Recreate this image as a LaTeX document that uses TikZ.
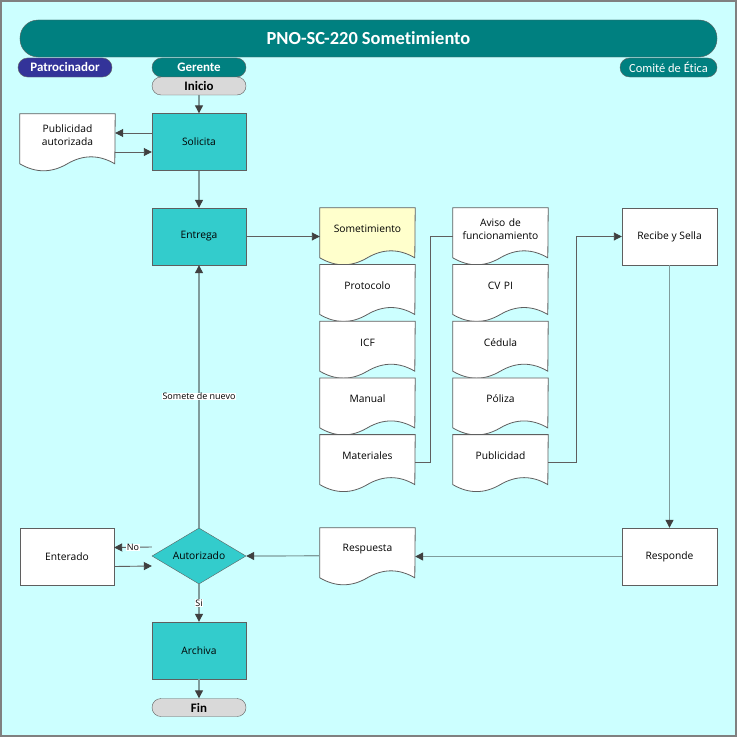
\documentclass[tikz,border=0pt]{standalone}
\usepackage{fontspec}
\setmainfont{Open Sans}
\newfontfamily\headfont[Ligatures=NoCommon]{Carlito}
\usetikzlibrary{positioning,calc,shapes.geometric,arrows.meta}
\definecolor{bgcyan}{HTML}{CCFFFF}
\definecolor{laneteal}{HTML}{008080}
\definecolor{laneblue}{HTML}{333399}
\definecolor{procturq}{HTML}{33CCCC}
\definecolor{docyellow}{HTML}{FFFFCC}
\definecolor{termgray}{HTML}{D9D9D9}
\definecolor{edgegray}{HTML}{5F5F5F}
\definecolor{flowgray}{HTML}{7F9C9C}
\definecolor{tipgray}{HTML}{404040}
\pgfdeclarelayer{background}
\pgfdeclarelayer{docs}
\pgfsetlayers{background,docs,main}

\begin{document}
\begin{tikzpicture}[x=1bp,y=-1bp,
    every node/.style={font=\fontsize{10.3}{13.5}\selectfont},
    lane/.style={rounded corners=9.5bp,draw=edgegray,fill=laneteal,text=white,
      minimum width=94bp,minimum height=19bp,inner sep=0pt,
      font=\headfont\bfseries\fontsize{13}{14}\selectfont},
    header/.style={rounded corners=18bp,draw=edgegray,fill=laneteal,text=white,
      minimum width=697bp,minimum height=37bp,inner sep=0pt,
      font=\headfont\bfseries\fontsize{18.5}{20}\selectfont},
    term/.style={rounded corners=9bp,draw=edgegray,fill=termgray,
      minimum width=94bp,minimum height=18bp,inner sep=0pt,
      font=\headfont\bfseries\fontsize{13}{14}\selectfont},
    procbox/.style={draw=edgegray,fill=procturq,minimum width=94bp,
      minimum height=57bp,inner sep=0pt},
    plainbox/.style={procbox,fill=white},
    docbox/.style={minimum width=95bp,minimum height=42bp,text width=93bp,
      align=center,inner sep=0pt},
    docline/.style={draw=edgegray,line width=0.8bp},
    decision/.style={diamond,draw=edgegray,fill=procturq,aspect=1.68,
      minimum width=94bp,minimum height=56bp,inner sep=0pt},
    flow/.style={draw=flowgray,line width=1.2bp,
      -{Triangle[length=8bp,width=8bp,color=tipgray]}},
    dflow/.style={flow,draw=edgegray,line width=0.9bp},
    flowlabel/.style={fill=white,inner sep=0.5bp,font=\fontsize{9}{10}\selectfont}
  ]
  \useasboundingbox (0,0) rectangle (737,737);
  \begin{pgfonlayer}{background}
    \draw[draw=gray,line width=1.5bp,fill=bgcyan] (1,1) rectangle (736,736);
  \end{pgfonlayer}

  % header and lanes
  \node[header] (title) at (368.5,38.5) {PNO-SC-220 Sometimiento};
  \node[lane,fill=laneblue] (patro) at (65,67.5) {Patrocinador};
  \node[lane] (gerente) at (199,67.5) {Gerente};
  \node[lane,minimum width=97bp,font=\headfont\fontsize{12.5}{14}\selectfont] (comite) at (668.5,67.5) {Comité de Ética};

  % gerente
  \node[term] (inicio) at (199,86) {Inicio};
  \node[procbox] (solicita) at (199,142) {Solicita};
  \node[procbox] (entrega) at (199,236.5) {Entrega};
  \node[decision] (autor) at (199,556) {Autorizado};
  \node[procbox] (archiva) at (199,650.5) {Archiva};
  \node[term] (fin) at (199,707.5) {Fin};

  % patrocinador
  \node[docbox] (pubaut) at (67.5,135) {Publicidad\\autorizada};
  \node[plainbox] (enterado) at (67,556.5) {Enterado};

  % documents
  \node[docbox] (somet) at (367.5,229) {Sometimiento};
  \node[docbox] (proto) at (367.5,285.7) {Protocolo};
  \node[docbox] (icf) at (367.5,342.4) {ICF};
  \node[docbox] (manual) at (367.5,399.1) {Manual};
  \node[docbox] (mater) at (367.5,455.8) {Materiales};
  \node[docbox] (aviso) at (500.5,229) {Aviso de\\funcionamiento};
  \node[docbox] (cvpi) at (500.5,285.7) {CV PI};
  \node[docbox] (cedula) at (500.5,342.4) {Cédula};
  \node[docbox] (poliza) at (500.5,399.1) {Póliza};
  \node[docbox] (publi) at (500.5,455.8) {Publicidad};
  \node[docbox] (resp) at (367.5,549) {Respuesta};

  % comite de etica
  \node[plainbox,minimum width=95bp] (recibe) at (669.5,236.5) {Recibe y Sella};
  \node[plainbox,minimum width=95bp] (responde) at (669.5,556.5) {Responde};

  \begin{pgfonlayer}{docs}
    \foreach \d/\f in {pubaut/white,somet/docyellow,proto/white,icf/white,
        manual/white,mater/white,aviso/white,cvpi/white,cedula/white,
        poliza/white,publi/white,resp/white}
      \draw[docline,fill=\f] (\d.north west) -- ++(0,50)
        .. controls +(15.8,9.3) and +(-15.8,9.3) .. ++(47.5,0)
        .. controls +(15.8,-9.3) and +(-15.8,-9.3) .. ++(47.5,0)
        -- (\d.north east) -- cycle;
  \end{pgfonlayer}

  % connectors
  \draw[flow] (inicio) -- (solicita);
  \draw[dflow] ($(solicita.west)+(0,-9)$) -- ($(pubaut.east)+(0,-2)$);
  \draw[dflow] ($(pubaut.east)+(0,17)$) -- ($(solicita.west)+(0,10)$);
  \draw[flow] (solicita) -- (entrega);
  \draw[dflow] (entrega) -- (entrega -| somet.west);
  \draw[docline] ($(mater.north east)+(0,27.5)$) -- ++(15,0) |- ($(aviso.north west)+(0,28.5)$);
  \draw[dflow] ($(publi.north east)+(0,27.5)$) -- ++(28,0) |- (recibe);
  \draw[flow] (recibe) -- (responde);
  \draw[flow] (responde) -- (responde -| resp.east);
  \draw[flow] ($(resp.north west)+(0,28)$) -- (autor.east);
  \draw[flow] (autor) -- node[flowlabel] {Somete de nuevo} (entrega);
  \draw[dflow] ($(autor.west)+(0,-9)$) -- node[flowlabel] {No} ($(enterado.east)+(0,-9)$);
  \draw[dflow] ($(enterado.east)+(0,10)$) -- ($(autor.west)+(0,10)$);
  \draw[flow] (autor) -- node[flowlabel] {Si} (archiva);
  \draw[flow] (archiva) -- (fin);
\end{tikzpicture}
\end{document}
